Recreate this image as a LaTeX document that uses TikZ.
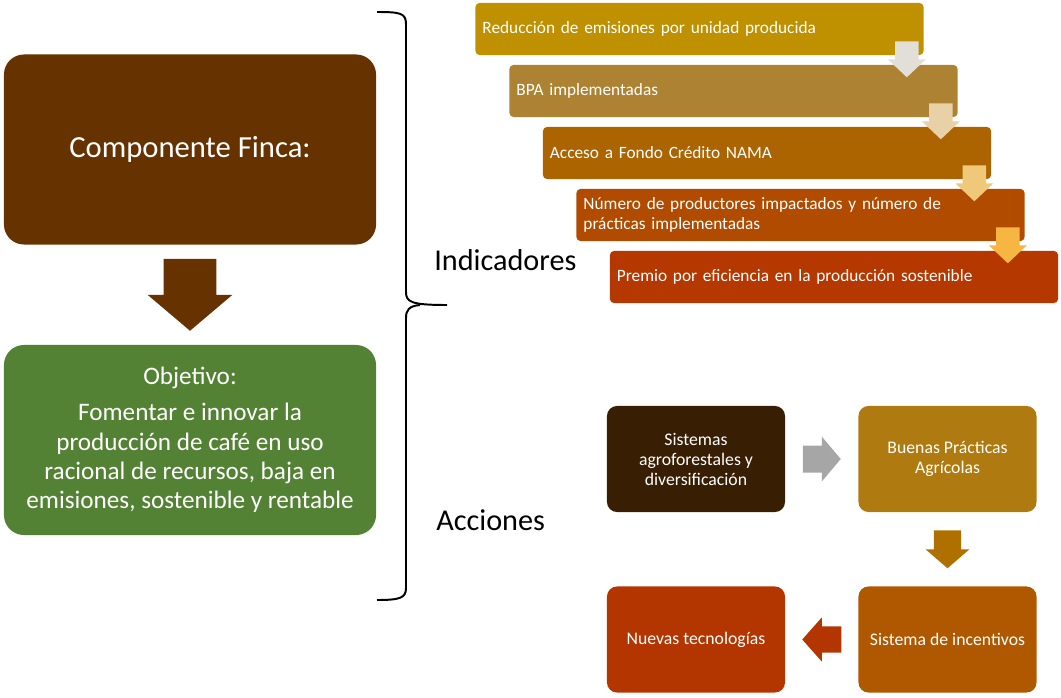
\documentclass[tikz,border=0pt]{standalone}
\usepackage{fontspec}
\setmainfont{Carlito}
\usetikzlibrary{calc}

\definecolor{fincabrown}{HTML}{663300}
\definecolor{objgreen}{HTML}{548235}
\definecolor{indone}{HTML}{BF9000}
\definecolor{indtwo}{HTML}{AD8333}
\definecolor{indthree}{HTML}{AC6400}
\definecolor{indfour}{HTML}{B04B00}
\definecolor{indfive}{HTML}{B53800}
\definecolor{stepone}{HTML}{E2DFD9}
\definecolor{steptwo}{HTML}{E8D1A6}
\definecolor{stepthree}{HTML}{EFC879}
\definecolor{stepfour}{HTML}{F7B642}
\definecolor{actsaf}{HTML}{381E02}
\definecolor{actbpa}{HTML}{AF7A0F}
\definecolor{actinc}{HTML}{B05800}
\definecolor{actnew}{HTML}{B33600}
\definecolor{actdown}{HTML}{B07000}

\begin{document}
\begin{tikzpicture}[x=0.025cm, y=-0.025cm,
		bigbox/.style = {rounded corners = 0.5cm, minimum width = 9.3cm, minimum height = 4.75cm, text = white, align = center},
		indbox/.style = {rounded corners = 0.1cm, minimum width = 11.2cm, minimum height = 1.3cm, text width = 10.85cm, inner xsep = 0.175cm, text = white, align = left, font = \fontsize{12.3}{14.2}\selectfont},
		actbox/.style = {rounded corners = 0.25cm, minimum width = 4.45cm, minimum height = 2.65cm, text = white, align = center, font = \fontsize{12.6}{14.2}\selectfont},
		blockdown/.pic = {\path [pic actions] (-0.31, -0.5) -- (0.31, -0.5) -- (0.31, 0) -- (0.5, 0) -- (0, 0.5) -- (-0.5, 0) -- (-0.31, 0) -- cycle;},
		blockright/.pic = {\path [pic actions] (-0.5, -0.3) -- (0, -0.3) -- (0, -0.5) -- (0.5, 0) -- (0, 0.5) -- (0, 0.3) -- (-0.5, 0.3) -- cycle;}]
		\useasboundingbox (0, 0) rectangle (1061, 698);

		% left column
		\node (comp) [bigbox, fill = fincabrown, font = \fontsize{21.8}{26}\selectfont] at (190, 149.5) {\raisebox{-3pt}{Componente Finca:}};
		\node (obj) [bigbox, fill = objgreen, font = \fontsize{17.9}{20.8}\selectfont] at (190, 440) {Objetivo:\\[5pt] Fomentar e innovar la\\ producción de café en uso\\ racional de recursos, baja en\\ emisiones, sostenible y rentable};
		\pic [fill = fincabrown, xscale = 85, yscale = 72] at ($(comp.south)!0.5!(obj.north)$) {blockdown};

		% brace
		\draw [line width = 1.4pt] (377, 12) .. controls (400, 12) and (406, 13) .. (406, 24) -- (406, 292) .. controls (406, 302) and (411, 305) .. (447, 305);
		\draw [line width = 1.4pt] (420, 305) .. controls (409, 306) and (406, 310) .. (406, 318) -- (406, 588) .. controls (406, 598) and (400, 600) .. (377, 600);
		\node (ind) [anchor = base west, inner sep = 0, font = \fontsize{21.5}{26}\selectfont] at (434, 270) {Indicadores};
		\node (acc) [anchor = base west, inner sep = 0, font = \fontsize{21.5}{26}\selectfont] at (436, 530) {Acciones};

		% indicators
		\node (i1) [indbox, fill = indone] at (699.5, 29) {Reducción de emisiones por unidad producida};
		\node (i2) [indbox, fill = indtwo] at (733.5, 91) {BPA implementadas};
		\node (i3) [indbox, fill = indthree] at (767, 153) {Acceso a Fondo Crédito NAMA};
		\node (i4) [indbox, fill = indfour] at (800.5, 215) {Número de productores impactados y número de\\ prácticas implementadas};
		\node (i5) [indbox, fill = indfive] at (834, 277) {Premio por eficiencia en la producción sostenible};
		\pic [fill = stepone, xscale = 38, yscale = 36] at ($(i1.south east)+(-17, 4)$) {blockdown};
		\pic [fill = steptwo, xscale = 38, yscale = 36] at ($(i2.south east)+(-17, 4)$) {blockdown};
		\pic [fill = stepthree, xscale = 38, yscale = 36] at ($(i3.south east)+(-17, 4)$) {blockdown};
		\pic [fill = stepfour, xscale = 38, yscale = 36] at ($(i4.south east)+(-17, 4)$) {blockdown};

		% actions
		\node (saf) [actbox, fill = actsaf] at (696, 459) {Sistemas\\ agroforestales y\\ diversificación};
		\node (bpa) [actbox, fill = actbpa] at (947.5, 459) {Buenas Prácticas\\ Agrícolas};
		\node (inc) [actbox, fill = actinc] at (947.5, 639.5) {Sistema de incentivos};
		\node (new) [actbox, fill = actnew] at (696, 639.5) {Nuevas tecnologías};
		\pic [fill = black!35, xscale = 38, yscale = 45] at ($(saf.east)!0.5!(bpa.west)$) {blockright};
		\pic [fill = actdown, xscale = 44, yscale = 38] at ($(bpa.south)!0.5!(inc.north)$) {blockdown};
		\pic [fill = actnew, xscale = -39, yscale = 44] at ($(inc.west)!0.5!(new.east)$) {blockright};
	\end{tikzpicture}
\end{document}
